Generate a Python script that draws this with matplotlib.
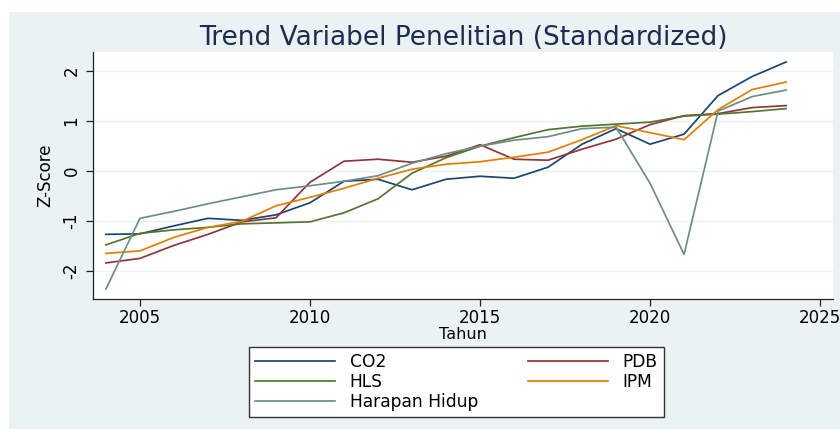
import matplotlib
matplotlib.use("Agg")
import matplotlib.pyplot as plt
from matplotlib.patches import Rectangle

plt.rcParams['font.family'] = ['DejaVu Sans']

years = list(range(2004, 2025))
co2 = [-1.27, -1.26, -1.10, -0.95, -0.99, -0.88, -0.64, -0.21, -0.17, -0.38,
       -0.17, -0.11, -0.15, 0.07, 0.53, 0.84, 0.53, 0.73, 1.50, 1.88, 2.17]
pdb = [-1.84, -1.75, -1.49, -1.27, -1.02, -0.94, -0.23, 0.19, 0.23, 0.17,
       0.29, 0.52, 0.23, 0.21, 0.43, 0.63, 0.92, 1.10, 1.14, 1.26, 1.30]
hls = [-1.48, -1.25, -1.18, -1.13, -1.06, -1.04, -1.02, -0.84, -0.56, -0.05,
       0.26, 0.49, 0.66, 0.82, 0.89, 0.93, 0.97, 1.09, 1.13, 1.18, 1.24]
ipm = [-1.65, -1.60, -1.33, -1.13, -1.01, -0.70, -0.53, -0.35, -0.15, 0.03,
       0.13, 0.18, 0.27, 0.37, 0.62, 0.90, 0.76, 0.62, 1.22, 1.62, 1.77]
harapan = [-2.36, -0.95, -0.81, -0.66, -0.52, -0.38, -0.30, -0.21, -0.10, 0.15,
           0.34, 0.49, 0.61, 0.68, 0.84, 0.87, -0.25, -1.67, 1.19, 1.48, 1.61]

series = [("CO2", co2, "#1a476f"), ("PDB", pdb, "#90353b"),
          ("HLS", hls, "#55752f"), ("IPM", ipm, "#e37e00"),
          ("Harapan Hidup", harapan, "#6e8e84")]

xticks = [2005, 2010, 2015, 2020, 2025]
yticks = [-2, -1, 0, 1, 2]

W, H = 840, 430
fig = plt.figure(figsize=(W / 100, H / 100), dpi=100, facecolor="white")
fig.patches.append(Rectangle((9 / W, 1 / H), 1 - 9 / W, (H - 13) / H,
                             transform=fig.transFigure, facecolor="#eaf2f3",
                             edgecolor="none", zorder=-10))

ax = fig.add_axes([93 / W, 1 - 299 / H, (833 - 93) / W, (299 - 52) / H])
ax.set_zorder(1)
ax.set_facecolor("white")
for name, vals, col in series:
    ax.plot(years, vals, color=col, lw=1.25, label=name)

ax.set_xlim(2003.62, 2025.38)
ax.set_ylim(-2.56, 2.37)
ax.set_xticks(xticks)
ax.set_yticks(yticks)
ax.set_yticklabels([str(v) for v in yticks], rotation=90, va="center")
ax.tick_params(axis="both", labelsize=12, length=5, width=0.9, color="#222222",
               labelcolor="black", direction="out")
ax.tick_params(axis="x", pad=2)
ax.tick_params(axis="y", pad=4)
ax.grid(axis="y", color="#eaf2f3", lw=1.0)
ax.set_axisbelow(True)
for s in ["top", "right"]:
    ax.spines[s].set_visible(False)
for s in ["left", "bottom"]:
    ax.spines[s].set_color("#222222")
    ax.spines[s].set_linewidth(0.9)

ax.set_xlabel("Tahun", fontsize=11.5, labelpad=0)
ax.set_ylabel("Z-Score", fontsize=12, labelpad=6)
fig.text(463 / W, 1 - 38 / H, "Trend Variabel Penelitian (Standardized)",
         ha="center", va="center", fontsize=19, color="#1e2d4f")

handles, labels = ax.get_legend_handles_labels()
order = [0, 2, 4, 1, 3]
leg = fig.legend([handles[i] for i in order], [labels[i] for i in order],
                 ncol=2, loc="upper left",
                 bbox_to_anchor=(249 / W, 1 - 347 / H), bbox_transform=fig.transFigure,
                 fontsize=12.3, frameon=True, fancybox=False, handlelength=4.7,
                 handletextpad=0.85, columnspacing=2.9, labelspacing=0.12,
                 borderpad=0.35, borderaxespad=0)
leg.get_frame().set_edgecolor("#333333")
leg.get_frame().set_linewidth(1.0)
leg.get_frame().set_facecolor("white")
leg.get_frame().set_alpha(1)

fig.savefig("out.png", dpi=100, facecolor="white")
